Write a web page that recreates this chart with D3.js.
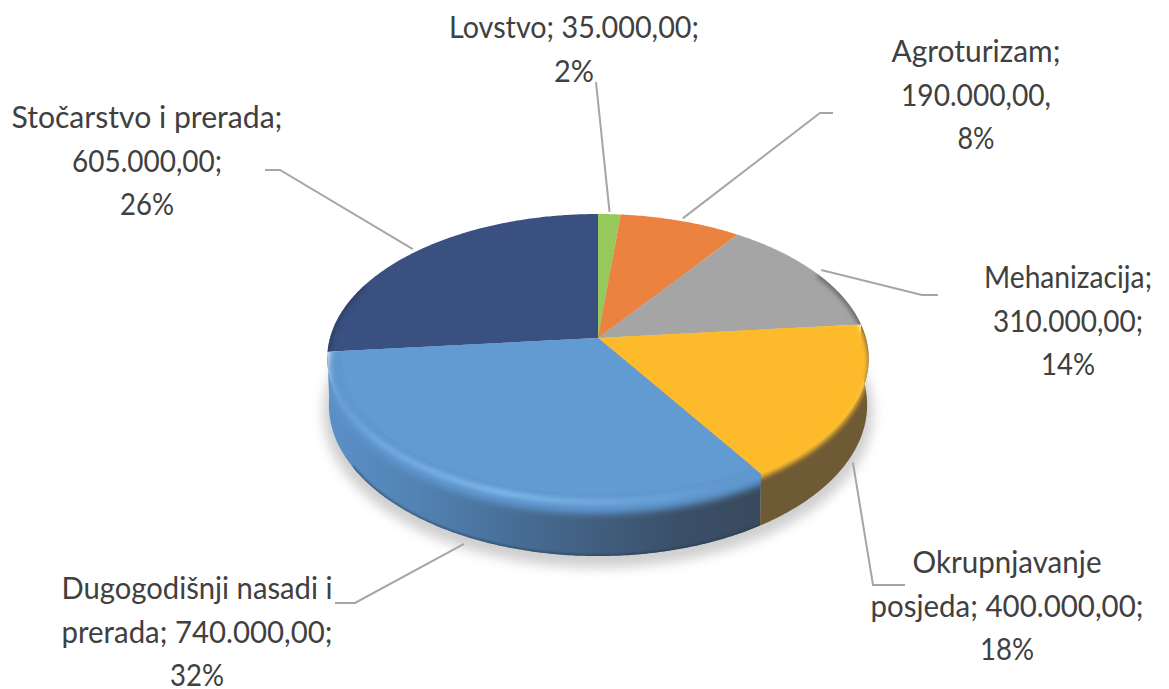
<!DOCTYPE html>
<html>
<head>
<meta charset="utf-8">
<script src="https://cdn.jsdelivr.net/npm/d3@7"></script>
<style>
  html, body { margin: 0; padding: 0; background: #fff; }
  text { font-family: Lato, "Open Sans", sans-serif; font-size: 30.5px; fill: #404040; text-anchor: middle; }
</style>
</head>
<body>
<svg id="chart" width="1169" height="689"></svg>
<script>
const categories = ['Lovstvo', 'Agroturizam', 'Mehanizacija', 'Okrupnjavanje posjeda', 'Dugogodišnji nasadi i prerada', 'Stočarstvo i prerada'];
const values = [35000, 190000, 310000, 400000, 740000, 605000];
const topColors = ['#96c95c', '#ec8240', '#a5a5a5', '#fdbb2c', '#629ad2', '#3a5081'];
const labelLines = [
  ['Lovstvo; 35.000,00;', '2%'],
  ['Agroturizam;', '190.000,00,', '8%'],
  ['Mehanizacija;', '310.000,00;', '14%'],
  ['Okrupnjavanje', 'posjeda; 400.000,00;', '18%'],
  ['Dugogodišnji nasadi i', 'prerada; 740.000,00;', '32%'],
  ['Stočarstvo i prerada;', '605.000,00;', '26%']
];

const svg = d3.select('#chart');
const defs = svg.append('defs');

// perspective view of the pie disc: centre point, radius, tilt
const cx = 598, cy = 338, R = 268, persp = -0.142, tilt = 141.6, depth = 45.5;

function project(a, z = 0, r = R) {
  const u = Math.sin(a), v = -Math.cos(a), d = 1 + persp * v;
  const k = r / R;
  return [cx + (r * u) / d * (1 - z * 0.006), cy + (tilt * k * v) / d + (z * depth) / d];
}

const pie = d3.pie().sort(null).value(d => d);
const arcs = pie(values);
const line = d3.line();

function rim(a0, a1, z = 0, r = R) {
  const n = Math.max(2, Math.ceil((a1 - a0) / 0.01));
  return d3.range(n + 1).map(i => project(a0 + ((a1 - a0) * i) / n, z, r));
}
const wedge = (s, r = R) => line([[cx, cy], ...rim(s.startAngle, s.endAngle, 0, r)]) + 'Z';
const wall = s => line([...rim(s.startAngle, s.endAngle, 0), ...rim(s.startAngle, s.endAngle, 1).reverse()]) + 'Z';
// top face running a little past its own angles and over the wall, blurred then clipped
const softTop = (s, z) => line([[cx, cy], ...rim(s.startAngle - 0.15, s.endAngle + 0.15, z)]) + 'Z';

function blur(id, sd) {
  defs.append('filter').attr('id', id)
    .attr('x', '-10%').attr('y', '-10%').attr('width', '120%').attr('height', '130%')
    .append('feGaussianBlur').attr('stdDeviation', sd);
}
blur('b1', 1.2);
blur('b2', 2.5);
blur('b3', 3.5);
blur('b6', 6);

const blueGrad = defs.append('linearGradient').attr('id', 'blueWall')
  .attr('gradientUnits', 'userSpaceOnUse').attr('x1', 327).attr('x2', 757).attr('y1', 0).attr('y2', 0);
[[0, '#5b90c8'], [0.2, '#5383b4'], [0.42, '#486f98'], [0.62, '#415f80'], [0.82, '#3b4f68'], [1, '#394a5e']]
  .forEach(d => blueGrad.append('stop').attr('offset', d[0]).attr('stop-color', d[1]));

const glowGrad = defs.append('linearGradient').attr('id', 'blueGlow')
  .attr('gradientUnits', 'userSpaceOnUse').attr('x1', 335).attr('x2', 730).attr('y1', 0).attr('y2', 0);
[[0, 0.15], [0.12, 0.6], [0.42, 1], [0.7, 0.55], [1, 0]]
  .forEach(d => glowGrad.append('stop').attr('offset', d[0]).attr('stop-color', '#8cc6f2').attr('stop-opacity', d[1]));

const yellow = arcs[3], blue = arcs[4], navy = arcs[5], gray = arcs[2];

// soft shadow below the disc
svg.append('path')
  .attr('d', line(rim(0, 2 * Math.PI, 1.15, R + 6)) + 'Z')
  .attr('fill', '#cfcfcf').attr('filter', 'url(#b6)');

// rear wedges
svg.selectAll('path.back').data([arcs[0], arcs[1], gray, navy]).enter().append('path')
  .attr('class', 'back')
  .attr('d', d => wedge(d))
  .attr('fill', d => topColors[d.index]);

// dark rim on the rear wedges that meet the bevel
defs.append('clipPath').attr('id', 'clipGray').append('path').attr('d', wedge(gray));
defs.append('clipPath').attr('id', 'clipNavy').append('path').attr('d', wedge(navy));
svg.append('path')
  .attr('d', line(rim(gray.startAngle + 0.45, gray.endAngle + 0.2)))
  .attr('clip-path', 'url(#clipGray)').attr('fill', 'none')
  .attr('stroke', '#5f5f5f').attr('stroke-width', 5).attr('filter', 'url(#b2)');
svg.append('path')
  .attr('d', line(rim(navy.startAngle - 0.1, navy.startAngle + 0.5)))
  .attr('clip-path', 'url(#clipNavy)').attr('fill', 'none')
  .attr('stroke', '#2a3c60').attr('stroke-width', 5).attr('filter', 'url(#b2)');

// side walls
defs.append('clipPath').attr('id', 'clipBlueAll').append('path').attr('d', wall(blue) + wedge(blue));
defs.append('clipPath').attr('id', 'clipYellow').append('path').attr('d', wall(yellow) + wedge(yellow));
svg.append('path').attr('d', wall(yellow)).attr('fill', '#6e5a35');
svg.append('path').attr('d', wall(blue)).attr('fill', 'url(#blueWall)');
svg.append('path')
  .attr('d', line(rim(blue.startAngle, blue.endAngle - 0.45, 1)))
  .attr('clip-path', 'url(#clipBlueAll)').attr('fill', 'none')
  .attr('stroke', '#22344a').attr('stroke-width', 3).attr('stroke-opacity', 0.55).attr('filter', 'url(#b1)');

// front wedges: soft rounded edge, then a sharp inner face
svg.append('g').attr('clip-path', 'url(#clipYellow)').append('path')
  .attr('d', softTop(yellow, 0.08))
  .attr('fill', topColors[yellow.index]).attr('filter', 'url(#b2)');
svg.append('path').attr('d', wedge(yellow, R - 12)).attr('fill', topColors[yellow.index]);

svg.append('g').attr('clip-path', 'url(#clipBlueAll)').append('path')
  .attr('d', softTop(blue, 0.2))
  .attr('fill', '#5f97cf').attr('filter', 'url(#b3)');
svg.append('path').attr('d', wedge(blue, R - 14)).attr('fill', topColors[blue.index]);
svg.append('g').attr('clip-path', 'url(#clipBlueAll)').append('path')
  .attr('d', line(rim(blue.startAngle + 0.1, blue.endAngle - 0.1, 0, R - 2)))
  .attr('fill', 'none').attr('stroke', 'url(#blueGlow)').attr('stroke-width', 4).attr('filter', 'url(#b2)');

// leader lines
const elbows = [
  [[596, 82]],
  [[820, 113], [833, 113]],
  [[922, 295], [938, 295]],
  [[873, 585], [905, 585]],
  [[355, 603], [335, 603]],
  [[280, 170], [265, 170]]
];
const startDepth = [0, 0, 0, 1.2, 1.15, 0];
const startRadius = [R + 5, R + 6, R + 8, R, R, R + 6];
svg.selectAll('path.leader').data(arcs).enter().append('path')
  .attr('class', 'leader')
  .attr('d', d => {
    const mid = (d.startAngle + d.endAngle) / 2;
    return line([project(mid, startDepth[d.index], startRadius[d.index]), ...elbows[d.index]]);
  })
  .attr('fill', 'none').attr('stroke', '#a6a6a6').attr('stroke-width', 2);

// data labels, each line fitted to the width it has in the picture
const labelX = [574, 976, 1068, 1007, 197, 147];
const labelY = [38, 62, 288, 573, 599, 128];
const lineGap = 43.5;
const lineWidths = [
  [250, 40],
  [169, 150, 37],
  [168, 150, 54],
  [189, 273, 54],
  [271, 271, 54],
  [271, 150, 54]
];
labelLines.forEach((lines, i) => {
  const t = svg.append('text').attr('aria-label', categories[i]);
  lines.forEach((s, j) => {
    t.append('tspan')
      .attr('x', labelX[i]).attr('y', labelY[i] + j * lineGap)
      .attr('textLength', lineWidths[i][j]).attr('lengthAdjust', 'spacingAndGlyphs')
      .text(s);
  });
});
</script>
</body>
</html>
